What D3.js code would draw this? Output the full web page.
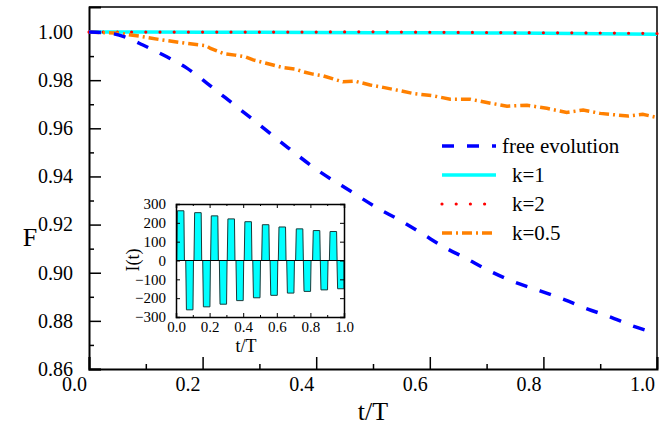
<!DOCTYPE html>
<html>
<head>
<meta charset="utf-8">
<script src="https://d3js.org/d3.v7.min.js"></script>
<style>
  body { margin: 0; background: #fff; }
  svg text { font-family: "Liberation Serif", Tinos, "Times New Roman", "DejaVu Serif", serif !important; fill: #000; }
</style>
</head>
<body>
<svg id="chart" width="659" height="433" font-family="Liberation Serif, serif"></svg>
<script>
// ---- data ----
// free evolution
const tFree = [0, 0.037, 0.066, 0.095, 0.137, 0.171, 0.208, 0.24, 0.3, 0.35, 0.4, 0.463, 0.507, 0.548, 0.586, 0.627, 0.665, 0.697, 0.747, 0.794, 0.838, 0.877, 0.917, 0.956, 1.0];
const fFree = [1.0, 0.9995, 0.9977, 0.9946, 0.9897, 0.9852, 0.9787, 0.9727, 0.9615, 0.952, 0.943, 0.9335, 0.927, 0.9217, 0.9163, 0.9104, 0.9058, 0.9017, 0.8963, 0.8925, 0.8887, 0.885, 0.8817, 0.878, 0.8747];
// k=1 and k=2
const tK = [0, 0.1, 0.2, 0.3, 0.4, 0.5, 0.6, 0.7, 0.8, 0.9, 1.0];
const fK1 = [1.0, 1.0, 0.99995, 0.9999, 0.9998, 0.99975, 0.9997, 0.9996, 0.9995, 0.9993, 0.9991];
const fK2 = [1.0, 1.0, 1.0, 1.0, 1.0, 1.0001, 0.9999, 0.9998, 0.9997, 0.9996, 0.9994];
// k=0.5
const tK05 = [0, 0.053, 0.088, 0.129, 0.171, 0.206, 0.214, 0.238, 0.257, 0.275, 0.289, 0.306, 0.324, 0.342, 0.363, 0.377, 0.394, 0.412, 0.43, 0.447, 0.468, 0.495, 0.518, 0.548, 0.57, 0.606, 0.636, 0.671, 0.694, 0.736, 0.771, 0.806, 0.841, 0.87, 0.9, 0.93, 0.949, 0.975, 1.0];
const fK05 = [1.0, 0.9995, 0.9983, 0.9967, 0.9953, 0.9943, 0.9932, 0.991, 0.9904, 0.9897, 0.9884, 0.9874, 0.9863, 0.9852, 0.9846, 0.9835, 0.9825, 0.9818, 0.9805, 0.9793, 0.9796, 0.978, 0.977, 0.9756, 0.9745, 0.9735, 0.9721, 0.9721, 0.971, 0.9692, 0.9696, 0.9683, 0.9666, 0.9676, 0.9662, 0.9655, 0.9651, 0.9658, 0.9645];

// inset: current pulses
const posStart = [0.004, 0.107, 0.206, 0.305, 0.406, 0.51, 0.609, 0.712, 0.813, 0.913];
const posAmp = [264, 254, 237, 221, 206, 190, 178, 168, 159, 154];
const negStart = [0.058, 0.159, 0.258, 0.357, 0.457, 0.56, 0.659, 0.758, 0.859, 0.958];
const negAmp = [-262, -246, -232, -213, -198, -185, -173, -164, -156, -150];
const pulseWidth = 0.043;

// ticks
const xMajor = [0, 0.2, 0.4, 0.6, 0.8, 1.0];
const xMinor = [0.1, 0.3, 0.5, 0.7, 0.9];
const yMajor = [0.86, 0.88, 0.90, 0.92, 0.94, 0.96, 0.98, 1.00];
const yMinor = [0.87, 0.89, 0.91, 0.93, 0.95, 0.97, 0.99];
const iyTicks = [-300, -200, -100, 0, 100, 200, 300];

const legendItems = ["free evolution", "k=1", "k=2", "k=0.5"];

// ---- drawing ----
const svg = d3.select("#chart");
const serif = "Liberation Serif, Tinos, Times New Roman, DejaVu Serif, serif";

const x = d3.scaleLinear().domain([0, 1]).range([89, 657]);
const y = d3.scaleLinear().domain([0.86, 1.0104]).range([369, 7]);

// frame (top and right)
svg.append("path")
  .attr("d", `M${x(0)},${y.range()[1]}H${x(1)}V${y.range()[0]}`)
  .attr("fill", "none").attr("stroke", "#000").attr("stroke-width", 1.5);

// bottom axis
const gx = svg.append("g").attr("transform", `translate(0,${y.range()[0]})`)
  .call(d3.axisBottom(x).tickValues(xMajor).tickSize(-12).tickPadding(8).tickFormat(d3.format(".1f")));
svg.append("g").attr("transform", `translate(0,${y.range()[0]})`)
  .call(d3.axisBottom(x).tickValues(xMinor).tickSize(-5).tickFormat(""))
  .select(".domain").remove();
gx.selectAll("text").attr("dx", -15).attr("font-size", 20);

// left axis
const gy = svg.append("g").attr("transform", `translate(${x(0)},0)`)
  .call(d3.axisLeft(y).tickValues(yMajor).tickSize(-12).tickPadding(16).tickFormat(d3.format(".2f")));
svg.append("g").attr("transform", `translate(${x(0)},0)`)
  .call(d3.axisLeft(y).tickValues(yMinor).tickSize(-5).tickFormat(""))
  .select(".domain").remove();
gy.selectAll("text").attr("font-size", 20);

svg.selectAll("g").attr("font-family", serif);
svg.selectAll(".domain").attr("stroke-width", 2);
svg.selectAll(".tick line").attr("stroke-width", 1.5);

// axis titles
svg.append("text").attr("x", 30).attr("y", 246).attr("text-anchor", "middle")
  .attr("font-size", 26).text("F");
svg.append("text").attr("x", 373).attr("y", 420).attr("text-anchor", "middle")
  .attr("font-size", 26).text("t/T");

// curves
const line = d3.line().x(d => x(d[0])).y(d => y(d[1]));

svg.append("path").datum(tK.map((t, i) => [t, fK1[i]]))
  .attr("d", line).attr("fill", "none").attr("stroke", "#00ffff").attr("stroke-width", 3.5);

svg.append("path").datum(tK.map((t, i) => [t, fK2[i]]))
  .attr("d", line).attr("fill", "none").attr("stroke", "#ff0000").attr("stroke-width", 3.2)
  .attr("stroke-linecap", "round").attr("stroke-dasharray", "0,14.2");

svg.append("path").datum(tK05.map((t, i) => [t, fK05[i]]))
  .attr("d", line).attr("fill", "none").attr("stroke", "#ff8000").attr("stroke-width", 3.5)
  .attr("stroke-dasharray", "10,4,2,4");

svg.append("path").datum(tFree.map((t, i) => [t, fFree[i]]))
  .attr("d", d3.line().x(d => x(d[0])).y(d => y(d[1])).curve(d3.curveMonotoneX))
  .attr("fill", "none").attr("stroke", "#0000ff").attr("stroke-width", 3.5)
  .attr("stroke-dasharray", "12,13");

// legend
const legendStyles = [
  { stroke: "#0000ff", dash: "12,13", cap: "butt", w: 3.5 },
  { stroke: "#00ffff", dash: null, cap: "butt", w: 3.5 },
  { stroke: "#ff0000", dash: "0,14.2", cap: "round", w: 3.2 },
  { stroke: "#ff8000", dash: "10,4,2,4", cap: "butt", w: 3.5 }
];
const legend = svg.append("g").attr("font-family", serif);
legendItems.forEach((name, i) => {
  const ly = 146 + i * 29;
  const s = legendStyles[i];
  legend.append("line").attr("x1", 442).attr("x2", 496).attr("y1", ly).attr("y2", ly)
    .attr("stroke", s.stroke).attr("stroke-width", s.w).attr("stroke-linecap", s.cap)
    .attr("stroke-dasharray", s.dash);
  legend.append("text").attr("x", i === 0 ? 502 : 512).attr("y", ly + 7)
    .attr("font-size", 21).text(name);
});

// ---- inset ----
const ix = d3.scaleLinear().domain([0, 1]).range([176, 344]);
const iy = d3.scaleLinear().domain([-300, 300]).range([317, 204]);
const inset = svg.append("g");

inset.append("rect").attr("x", ix(0)).attr("y", iy(300))
  .attr("width", ix(1) - ix(0)).attr("height", iy(-300) - iy(300)).attr("fill", "#fff");

const pulses = posStart.map((s, i) => ({ s: s, a: posAmp[i] }))
  .concat(negStart.map((s, i) => ({ s: s, a: negAmp[i] })));
inset.append("g").selectAll("path").data(pulses).join("path")
  .attr("d", d => {
    const e = Math.min(d.s + pulseWidth, 1);
    return "M" + ix(d.s) + "," + iy(0) +
      "L" + ix(d.s + 0.004) + "," + iy(d.a) +
      "L" + ix(e) + "," + iy(d.a) +
      "L" + ix(Math.min(e + 0.003, 1)) + "," + iy(0) + "Z";
  })
  .attr("fill", "#00ffff").attr("stroke", "#1a3a3a").attr("stroke-width", 1);

inset.append("line").attr("x1", ix(0)).attr("x2", ix(1)).attr("y1", iy(0)).attr("y2", iy(0))
  .attr("stroke", "#000").attr("stroke-width", 1.2);

const ixb = inset.append("g").attr("transform", `translate(0,${iy(-300)})`)
  .call(d3.axisBottom(ix).tickValues(xMajor).tickSize(-4).tickPadding(4).tickFormat(d3.format(".1f")));
ixb.selectAll("text").attr("font-size", 15);
inset.append("g").attr("transform", `translate(0,${iy(-300)})`)
  .call(d3.axisBottom(ix).tickValues(xMinor).tickSize(-2).tickFormat("")).select(".domain").remove();
inset.append("g").attr("transform", `translate(0,${iy(300)})`)
  .call(d3.axisTop(ix).tickValues(xMajor).tickSize(-4).tickFormat(""));
inset.append("g").attr("transform", `translate(0,${iy(300)})`)
  .call(d3.axisTop(ix).tickValues(xMinor).tickSize(-2).tickFormat("")).select(".domain").remove();

const iyl = inset.append("g").attr("transform", `translate(${ix(0)},0)`)
  .call(d3.axisLeft(iy).tickValues(iyTicks).tickSize(-4).tickPadding(10));
iyl.selectAll("text").attr("font-size", 15);
inset.append("g").attr("transform", `translate(${ix(1)},0)`)
  .call(d3.axisRight(iy).tickValues(iyTicks).tickSize(-4).tickFormat(""));

inset.selectAll("g").attr("font-family", serif);
inset.selectAll(".domain").attr("stroke-width", 1.5);
inset.selectAll(".tick line").attr("stroke-width", 1);

inset.append("text").attr("transform", "translate(139,260) rotate(-90)")
  .attr("text-anchor", "middle").attr("font-size", 18).attr("font-family", serif).text("I(t)");
inset.append("text").attr("x", 246).attr("y", 352).attr("text-anchor", "middle")
  .attr("font-size", 18).attr("font-family", serif).text("t/T");
</script>
</body>
</html>
